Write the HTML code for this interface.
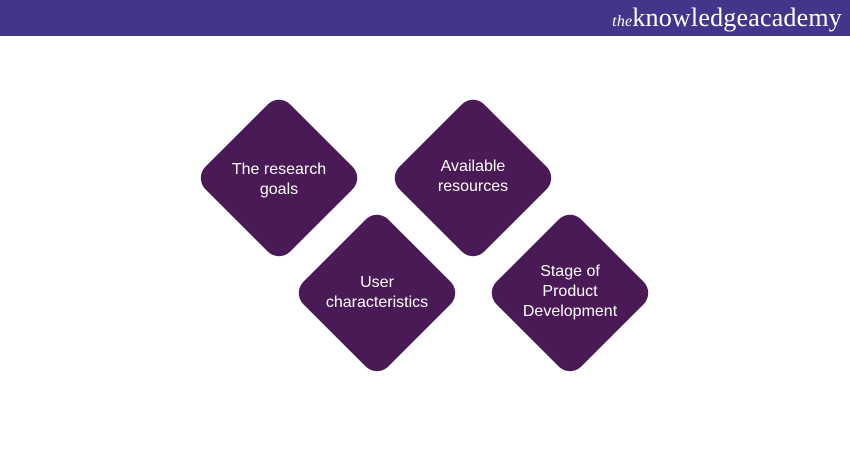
<!DOCTYPE html>
<html><head><style>
body{margin:0;width:850px;height:450px;background:#fff;position:relative;overflow:hidden;font-family:"Liberation Sans",sans-serif}
.hdr{position:absolute;left:0;top:0;width:850px;height:36px;background:#45348c}
.logo{position:absolute;right:8px;top:3px;color:#fff;font-family:"Liberation Serif",serif;font-size:26px;letter-spacing:0.2px}
.logo i{font-size:16px}
.d{position:absolute;width:120px;height:120px;background:#4a1a57;border-radius:16px;transform:rotate(45deg)}
.t{position:absolute;width:150px;text-align:center;color:#fff;font-size:16px;line-height:20px}
</style></head><body>
<div class="hdr"><div class="logo"><i>the</i>knowledgeacademy</div></div>
<div class="d" style="left:219px;top:118px"></div>
<div class="d" style="left:413px;top:118px"></div>
<div class="d" style="left:317px;top:233px"></div>
<div class="d" style="left:510px;top:233px"></div>
<div class="t" style="left:204px;top:160px">The research<br>goals</div>
<div class="t" style="left:398px;top:157px">Available<br>resources</div>
<div class="t" style="left:302px;top:273px">User<br>characteristics</div>
<div class="t" style="left:495px;top:262px">Stage of<br>Product<br>Development</div>
</body></html>
